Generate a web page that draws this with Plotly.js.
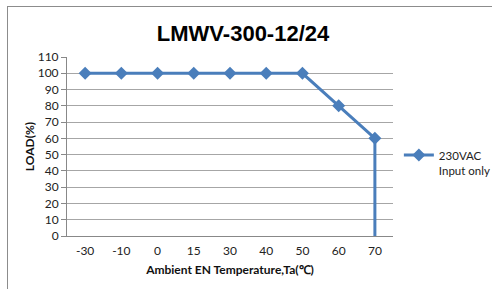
<!DOCTYPE html>
<html>
<head>
<meta charset="utf-8">
<script src="https://cdn.plot.ly/plotly-3.0.1.min.js"></script>
<style>
html,body{margin:0;padding:0;background:#fff;}
#frame{position:absolute;left:7px;top:6px;width:485px;height:283px;border-left:1.5px solid #8c8c8c;border-top:1.5px solid #8c8c8c;box-sizing:border-box;}
#chart{position:absolute;left:0;top:0;width:492px;height:289px;}
</style>
</head>
<body>
<div id="frame"></div>
<div id="chart"></div>
<script>
const temperatures = ["-30", "-10", "0", "15", "30", "40", "50", "60", "70"];
const loadValues = [100, 100, 100, 100, 100, 100, 100, 80, 60];
const dropX = ["70", "70"];
const dropY = [60, 0];
const seriesName = "230VAC<br>Input only";
const blue = "#4a7ebb";

const traces = [
  {
    x: dropX, y: dropY, type: "scatter", mode: "lines",
    line: {color: blue, width: 3}, showlegend: false, hoverinfo: "skip"
  },
  {
    x: temperatures, y: loadValues, type: "scatter", mode: "lines+markers",
    name: seriesName,
    line: {color: blue, width: 3},
    marker: {symbol: "diamond", size: 10, color: blue}
  }
];

const tickFont = {family: "Lato, Open Sans, sans-serif", size: 12, color: "#222"};
const titleFont = {family: "Lato, Open Sans, sans-serif", size: 12, color: "#111"};

const layout = {
  width: 492, height: 289,
  margin: {l: 67, r: 99, t: 57, b: 53, autoexpand: false},
  paper_bgcolor: "rgba(0,0,0,0)",
  plot_bgcolor: "rgba(0,0,0,0)",
  font: {family: "Lato, sans-serif", size: 12, color: "#222"},
  title: {
    text: "<b>LMWV-300-12/24</b>",
    font: {family: "Liberation Sans, Arial, sans-serif", size: 22, color: "#000"},
    x: 0.494, xanchor: "center", y: 0.885, yanchor: "middle"
  },
  xaxis: {
    type: "category", categoryorder: "array", categoryarray: temperatures,
    range: [-0.5, 8.5],
    showgrid: false, showline: true, linecolor: "#888", linewidth: 1,
    ticks: "", ticklabelstandoff: 4,
    tickfont: tickFont,
    title: {text: "<b>Ambient EN Temperature,Ta(℃)</b>", standoff: 8, font: titleFont},
    zeroline: false, fixedrange: true
  },
  yaxis: {
    range: [0, 110], dtick: 10, tick0: 0,
    showgrid: true, gridcolor: "#a6a6a6", gridwidth: 1,
    showline: true, linecolor: "#888", linewidth: 1,
    ticks: "outside", ticklen: 5, tickcolor: "#888",
    tickfont: tickFont,
    title: {text: "<b>LOAD(%)</b>", standoff: 0, font: titleFont},
    zeroline: false, fixedrange: true
  },
  showlegend: true,
  legend: {
    x: 1.018, xanchor: "left", y: 0.53, yanchor: "top",
    valign: "top",
    bgcolor: "rgba(0,0,0,0)",
    font: {family: "Lato, Open Sans, sans-serif", size: 11.5, color: "#222"},
    itemwidth: 30
  }
};

Plotly.newPlot("chart", traces, layout, {displayModeBar: false, staticPlot: true});
</script>
</body>
</html>
